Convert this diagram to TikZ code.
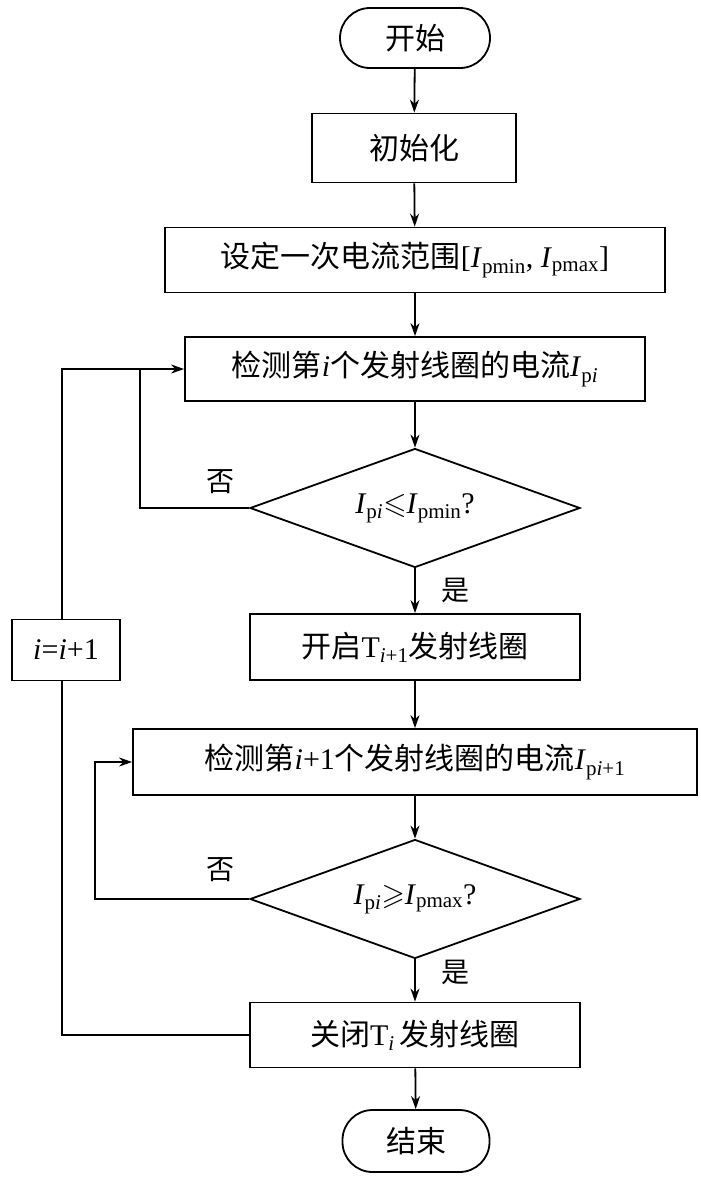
\documentclass[tikz,border=0pt]{standalone}
\usepackage{amssymb}
\usepackage{fontspec}
\setmainfont{Liberation Serif}
\newfontfamily\cjk{Noto Sans CJK SC}
\usetikzlibrary{shapes.geometric,arrows.meta}
\newcommand{\Ip}[1]{\textit{I}\textsubscript{#1}}
\begin{document}
\begin{tikzpicture}[x=1pt,y=-1pt,line width=1.8pt,
  box/.style={draw,rectangle,inner sep=0pt,font=\fontsize{30}{34}\selectfont},
  term/.style={draw,rounded corners=30pt,inner sep=0pt,font=\fontsize{30}{34}\selectfont},
  dia/.style={draw,diamond,aspect=2.77,inner sep=0pt,minimum width=330pt,minimum height=119pt,font=\fontsize{30}{34}\selectfont},
  lab/.style={font=\fontsize{28}{30}\selectfont\cjk},
  arr/.style={-{Stealth[length=13pt,width=9pt]}}]
\useasboundingbox (0,0) rectangle (701,1183);
\node[term,minimum width=150pt,minimum height=60pt] (s) at (415,38) {\cjk 开始};
\node[box,minimum width=204pt,minimum height=69pt] (init) at (414,148) {\cjk 初始化};
\node[box,minimum width=500pt,minimum height=65pt] (set) at (415,260) {{\cjk 设定一次电流范围}[\Ip{pmin}, \Ip{pmax}]};
\node[box,minimum width=460pt,minimum height=64pt] (d1) at (415,369) {{\cjk 检测第}\textit{i}{\cjk 个发射线圈的电流}\Ip{p\textit{i}}};
\node[dia] (q1) at (415,508) {\Ip{p\textit{i}}$\leqslant$\Ip{pmin}?};
\node[box,minimum width=330pt,minimum height=66pt] (on) at (415,647) {{\cjk 开启}T\textsubscript{\textit{i}+1}{\cjk 发射线圈}};
\node[box,minimum width=564pt,minimum height=66pt] (d2) at (415,762) {{\cjk 检测第}\textit{i}+1{\cjk 个发射线圈的电流}\Ip{p\textit{i}+1}};
\node[dia] (q2) at (415,899) {\Ip{p\textit{i}}$\geqslant$\Ip{pmax}?};
\node[box,minimum width=330pt,minimum height=65pt] (off) at (415,1035) {{\cjk 关闭}T\textsubscript{\textit{i}}\,{\cjk 发射线圈}};
\node[term,minimum width=147pt,minimum height=62pt] (e) at (416,1141) {\cjk 结束};
\node[box,minimum width=108pt,minimum height=61pt] (inc) at (66,650) {\textit{i}=\textit{i}+1};
\node[lab] (n1) at (220,482) {否};
\node[lab] (y1) at (455,590) {是};
\node[lab] (n2) at (220,870) {否};
\node[lab] (y2) at (455,972) {是};
\coordinate (a1) at (140,508); \coordinate (a2) at (140,369);
\coordinate (b1) at (95,899); \coordinate (b2) at (95,762);
\coordinate (c1) at (62,1035); \coordinate (c2) at (62,369);
\draw[arr] (s) -- (init);
\draw[arr] (init) -- (set);
\draw[arr] (set) -- (d1);
\draw[arr] (d1) -- (q1);
\draw[arr] (q1) -- (on);
\draw[arr] (on) -- (d2);
\draw[arr] (d2) -- (q2);
\draw[arr] (q2) -- (off);
\draw[arr] (off) -- (e);
\draw (q1.west) -- (a1) -- (a2);
\draw[arr] (q2.west) -- (b1) -- (b2) -- (d2.west);
\draw (off.west) -- (c1) -- (inc.south -| c1);
\draw[arr] (inc.north -| c2) -- (c2) -- (d1.west);
\end{tikzpicture}
\end{document}
